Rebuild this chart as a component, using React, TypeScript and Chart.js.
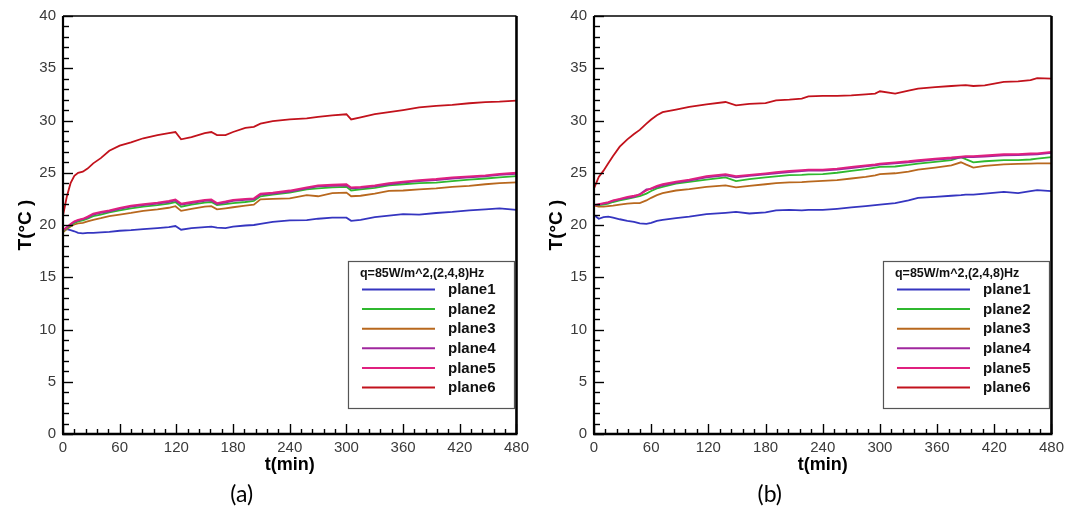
import React, { useEffect, useRef } from "react";
import { Chart, registerables } from "chart.js";

Chart.register(...registerables);

// ---------- labels, tick labels, colours ----------
const SERIES_LABELS = ["plane1", "plane2", "plane3", "plane4", "plane5", "plane6"];
const SERIES_COLORS = ["#3535c0", "#2fb82f", "#b8681e", "#a0279e", "#e0207f", "#c2121c"];
const SERIES_ORDER = [5, 3, 4, 2, 1, 0];
const LEGEND_TITLE = "q=85W/m^2,(2,4,8)Hz";
const X_TICKS = [0, 60, 120, 180, 240, 300, 360, 420, 480];
const Y_TICKS = [0, 5, 10, 15, 20, 25, 30, 35, 40];
const X_TITLE = "t(min)";
const Y_TITLE = "T(°C )";

// ---------- panel (a) ----------
const timesA = [0, 4, 8, 12, 16, 21, 26, 32, 40, 49, 60, 72, 85, 100, 112, 119, 125, 136, 150, 157, 163, 172, 180, 193, 202, 209, 222, 240, 258, 270, 285, 300, 305, 315, 330, 345, 360, 377, 395, 412, 430, 447, 462, 480];
const aPlane1 = [19.5, 19.6, 19.5, 19.4, 19.25, 19.2, 19.25, 19.25, 19.3, 19.35, 19.45, 19.5, 19.6, 19.7, 19.8, 19.9, 19.55, 19.7, 19.8, 19.85, 19.75, 19.7, 19.85, 19.95, 20.0, 20.1, 20.3, 20.45, 20.47, 20.6, 20.7, 20.7, 20.4, 20.5, 20.75, 20.9, 21.05, 21.0, 21.15, 21.25, 21.4, 21.5, 21.6, 21.45];
const aPlane2 = [19.4, 19.7, 19.95, 20.2, 20.35, 20.45, 20.6, 20.85, 21.0, 21.2, 21.4, 21.6, 21.75, 21.9, 22.05, 22.2, 21.75, 21.95, 22.15, 22.2, 21.9, 22.0, 22.1, 22.2, 22.3, 22.75, 22.9, 23.1, 23.4, 23.5, 23.6, 23.65, 23.3, 23.4, 23.55, 23.8, 23.9, 24.0, 24.05, 24.2, 24.35, 24.45, 24.55, 24.67];
const aPlane3 = [19.3, 19.6, 19.85, 20.05, 20.15, 20.2, 20.35, 20.5, 20.65, 20.85, 21.0, 21.15, 21.35, 21.5, 21.65, 21.8, 21.35, 21.55, 21.75, 21.8, 21.5, 21.6, 21.7, 21.85, 21.95, 22.45, 22.5, 22.55, 22.85, 22.75, 23.05, 23.1, 22.75, 22.8, 23.0, 23.27, 23.3, 23.4, 23.5, 23.65, 23.75, 23.9, 24.0, 24.07];
const aPlane4 = [19.5, 19.75, 20.05, 20.3, 20.45, 20.55, 20.7, 21.0, 21.15, 21.3, 21.55, 21.75, 21.9, 22.05, 22.2, 22.35, 21.95, 22.1, 22.3, 22.35, 22.0, 22.15, 22.3, 22.4, 22.45, 22.9, 23.0, 23.2, 23.5, 23.7, 23.75, 23.8, 23.5, 23.55, 23.7, 23.9, 24.05, 24.2, 24.3, 24.45, 24.55, 24.65, 24.8, 24.9];
const aPlane5 = [19.5, 19.8, 20.1, 20.35, 20.5, 20.6, 20.8, 21.1, 21.25, 21.4, 21.65, 21.85, 22.0, 22.15, 22.3, 22.45, 22.05, 22.2, 22.4, 22.45, 22.1, 22.25, 22.4, 22.5, 22.55, 23.0, 23.1, 23.3, 23.6, 23.8, 23.85, 23.9, 23.6, 23.65, 23.8, 24.0, 24.15, 24.3, 24.4, 24.55, 24.65, 24.75, 24.9, 25.0];
const aPlane6 = [20.9, 22.7, 24.0, 24.7, 25.0, 25.1, 25.4, 25.9, 26.4, 27.1, 27.6, 27.9, 28.3, 28.6, 28.8, 28.9, 28.2, 28.4, 28.8, 28.9, 28.6, 28.6, 28.9, 29.3, 29.4, 29.7, 29.95, 30.1, 30.2, 30.35, 30.5, 30.6, 30.1, 30.3, 30.6, 30.8, 31.0, 31.25, 31.4, 31.5, 31.65, 31.75, 31.8, 31.9];

// ---------- panel (b) ----------
const timesB = [0, 5, 10, 15, 20, 27, 35, 42, 48, 55, 60, 66, 72, 86, 100, 118, 138, 149, 163, 180, 191, 205, 218, 225, 240, 255, 270, 285, 295, 300, 316, 330, 340, 358, 375, 385, 390, 398, 410, 430, 445, 458, 465, 480];
const bPlane1 = [20.95, 20.6, 20.75, 20.8, 20.7, 20.55, 20.4, 20.3, 20.15, 20.1, 20.2, 20.4, 20.5, 20.65, 20.8, 21.04, 21.17, 21.25, 21.1, 21.2, 21.4, 21.45, 21.4, 21.45, 21.45, 21.55, 21.68, 21.8, 21.9, 21.95, 22.1, 22.35, 22.6, 22.7, 22.8, 22.85, 22.9, 22.9, 23.0, 23.17, 23.05, 23.25, 23.33, 23.24];
const bPlane2 = [21.9, 21.9, 21.95, 22.05, 22.2, 22.35, 22.5, 22.65, 22.76, 23.0, 23.25, 23.5, 23.65, 23.95, 24.13, 24.35, 24.55, 24.2, 24.4, 24.55, 24.65, 24.77, 24.8, 24.85, 24.86, 25.0, 25.18, 25.35, 25.5, 25.56, 25.6, 25.75, 25.88, 26.05, 26.2, 26.5, 26.3, 26.0, 26.1, 26.2, 26.2, 26.27, 26.35, 26.5];
const bPlane3 = [21.85, 21.75, 21.75, 21.8, 21.85, 21.95, 22.05, 22.1, 22.1, 22.35, 22.6, 22.86, 23.05, 23.3, 23.43, 23.65, 23.8, 23.6, 23.75, 23.9, 24.0, 24.07, 24.1, 24.15, 24.22, 24.3, 24.45, 24.6, 24.75, 24.86, 24.95, 25.1, 25.3, 25.5, 25.7, 26.0, 25.8, 25.5, 25.65, 25.8, 25.85, 25.88, 25.9, 25.9];
const bPlane4 = [21.9, 21.95, 22.05, 22.15, 22.3, 22.45, 22.6, 22.7, 22.95, 23.4, 23.45, 23.65, 23.8, 24.05, 24.25, 24.55, 24.75, 24.55, 24.7, 24.85, 24.95, 25.05, 25.15, 25.2, 25.2, 25.3, 25.45, 25.6, 25.7, 25.78, 25.9, 26.0, 26.1, 26.25, 26.36, 26.45, 26.5, 26.5, 26.55, 26.67, 26.68, 26.74, 26.75, 26.9];
const bPlane5 = [21.9, 22.0, 22.1, 22.2, 22.35, 22.5, 22.7, 22.8, 22.9, 23.3, 23.5, 23.75, 23.9, 24.15, 24.35, 24.67, 24.86, 24.67, 24.8, 24.95, 25.05, 25.18, 25.25, 25.3, 25.3, 25.4, 25.56, 25.7, 25.8, 25.88, 26.0, 26.1, 26.2, 26.35, 26.46, 26.55, 26.6, 26.6, 26.65, 26.77, 26.78, 26.84, 26.85, 27.0];
const bPlane6 = [23.5, 24.6, 25.2, 25.9, 26.6, 27.5, 28.2, 28.7, 29.1, 29.7, 30.1, 30.5, 30.8, 31.04, 31.3, 31.55, 31.77, 31.45, 31.6, 31.67, 31.93, 32.0, 32.1, 32.3, 32.35, 32.35, 32.4, 32.5, 32.57, 32.8, 32.57, 32.85, 33.05, 33.2, 33.3, 33.36, 33.38, 33.3, 33.36, 33.7, 33.75, 33.86, 34.06, 34.0];

const FONT = "'Liberation Sans', Arial, sans-serif";

const decorPlugin = {
  id: "decor",
  afterDraw(chart: any, _args: any, opts: any) {
    const ctx = chart.ctx;
    const { left, right, top, bottom } = chart.chartArea;
    const xs = chart.scales.x;
    const ys = chart.scales.y;
    ctx.save();
    ctx.strokeStyle = "#000";
    ctx.lineWidth = 1.4;
    // inner ticks, y
    for (let v = 0; v <= 40; v += 1) {
      const y = Math.round(ys.getPixelForValue(v)) + 0.5;
      const len = v % 5 === 0 ? 10 : 6;
      ctx.beginPath(); ctx.moveTo(left, y); ctx.lineTo(left + len, y); ctx.stroke();
    }
    // inner ticks, x
    for (let t = 0; t <= 480; t += 12) {
      const x = Math.round(xs.getPixelForValue(t)) + 0.5;
      const len = t % 60 === 0 ? 10 : 5;
      ctx.beginPath(); ctx.moveTo(x, bottom); ctx.lineTo(x, bottom - len); ctx.stroke();
    }
    // frame
    ctx.lineWidth = 1.5;
    ctx.beginPath(); ctx.moveTo(left, top); ctx.lineTo(right, top); ctx.stroke();
    ctx.lineWidth = 2.2;
    ctx.beginPath(); ctx.moveTo(left, top); ctx.lineTo(left, bottom); ctx.stroke();
    ctx.lineWidth = 2.6;
    ctx.beginPath(); ctx.moveTo(left - 1, bottom); ctx.lineTo(right + 1, bottom); ctx.stroke();
    ctx.beginPath(); ctx.moveTo(right, top); ctx.lineTo(right, bottom); ctx.stroke();

    // legend box
    const bw = 166, bh = 147;
    const bx = right - 2.5 - bw;
    const by = 261;
    ctx.fillStyle = "#fff";
    ctx.fillRect(bx, by, bw, bh);
    ctx.strokeStyle = "#555";
    ctx.lineWidth = 1.2;
    ctx.strokeRect(bx + 0.5, by + 0.5, bw, bh);
    ctx.fillStyle = "#111";
    ctx.textBaseline = "middle";
    ctx.textAlign = "left";
    ctx.font = `bold 12.5px ${FONT}`;
    ctx.fillText(opts.title, bx + 12, by + 12.5);
    ctx.font = `bold 15px ${FONT}`;
    chart.data.datasets.forEach((ds: any, i: number) => {
      const yy = by + 28.5 + i * 19.6;
      ctx.strokeStyle = ds.borderColor;
      ctx.lineWidth = 2;
      ctx.beginPath(); ctx.moveTo(bx + 14, yy); ctx.lineTo(bx + 87, yy); ctx.stroke();
      ctx.fillStyle = "#111";
      ctx.fillText(ds.label, bx + 100, yy + 0.5);
    });

    // axis titles
    ctx.fillStyle = "#000";
    ctx.textAlign = "center";
    ctx.font = `bold 18px ${FONT}`;
    ctx.fillText(opts.xTitle, (left + right) / 2, bottom + 31);
    ctx.save();
    ctx.translate(left - 37, (top + bottom) / 2);
    ctx.rotate(-Math.PI / 2);
    ctx.font = `bold 19px ${FONT}`;
    ctx.fillText(opts.yTitle, 0, 0);
    ctx.restore();
    // caption
    ctx.font = `23px Lato, 'Open Sans', sans-serif`;
    ctx.fillStyle = "#000";
    ctx.fillText(opts.caption, (left + right) / 2 + opts.captionShift, bottom + 61);
    ctx.restore();
  },
};

type PanelProps = {
  times: number[];
  series: number[][];
  caption: string;
  captionShift: number;
  width: number;
  plotLeft: number;
  padRight: number;
};

function Panel({ times, series, caption, captionShift, width, plotLeft, padRight }: PanelProps) {
  const ref = useRef<HTMLCanvasElement | null>(null);
  useEffect(() => {
    if (!ref.current) return;
    const datasets = series.map((vals, i) => ({
      label: SERIES_LABELS[i],
      data: times.map((t, j) => ({ x: t, y: vals[j] })),
      borderColor: SERIES_COLORS[i],
      backgroundColor: SERIES_COLORS[i],
      borderWidth: 1.8,
      pointRadius: 0,
      tension: 0,
      fill: false,
      order: SERIES_ORDER[i],
    }));
    const chart = new Chart(ref.current, {
      type: "line",
      data: { datasets },
      options: {
        responsive: false,
        animation: false,
        devicePixelRatio: 1,
        layout: { padding: { left: 0, right: padRight, top: 16, bottom: 0 } },
        plugins: {
          legend: { display: false },
          tooltip: { enabled: false },
          decor: { title: LEGEND_TITLE, xTitle: X_TITLE, yTitle: Y_TITLE, caption, captionShift },
        } as any,
        scales: {
          x: {
            type: "linear",
            min: 0,
            max: 480,
            afterBuildTicks: (s: any) => { s.ticks = X_TICKS.map((v) => ({ value: v })); },
            afterFit: (s: any) => { s.height = 509 - 434; },
            ticks: { padding: 5, color: "#3a3a3a", font: { family: FONT, size: 15 }, maxRotation: 0, autoSkip: false },
            grid: { display: false, drawTicks: false },
            border: { display: false },
          },
          y: {
            type: "linear",
            min: 0,
            max: 40,
            afterBuildTicks: (s: any) => { s.ticks = Y_TICKS.map((v) => ({ value: v })); },
            afterFit: (s: any) => { s.width = plotLeft; },
            ticks: { padding: 7, color: "#3a3a3a", font: { family: FONT, size: 15 }, autoSkip: false },
            grid: { display: false, drawTicks: false },
            border: { display: false },
          },
        },
      } as any,
      plugins: [decorPlugin],
    });
    return () => chart.destroy();
  }, []);
  return <canvas ref={ref} width={width} height={509} style={{ display: "block", width, height: 509 }} />;
}

export default function App() {
  return (
    <div style={{ position: "fixed", left: 0, top: 0, width: 1069, height: 509, background: "#fff", display: "flex" }}>
      <Panel times={timesA} series={[aPlane1, aPlane2, aPlane3, aPlane4, aPlane5, aPlane6]} caption="(a)" captionShift={-48} width={534} plotLeft={63} padRight={12} />
      <Panel times={timesB} series={[bPlane1, bPlane2, bPlane3, bPlane4, bPlane5, bPlane6]} caption="(b)" captionShift={-53} width={535} plotLeft={60} padRight={15} />
    </div>
  );
}
